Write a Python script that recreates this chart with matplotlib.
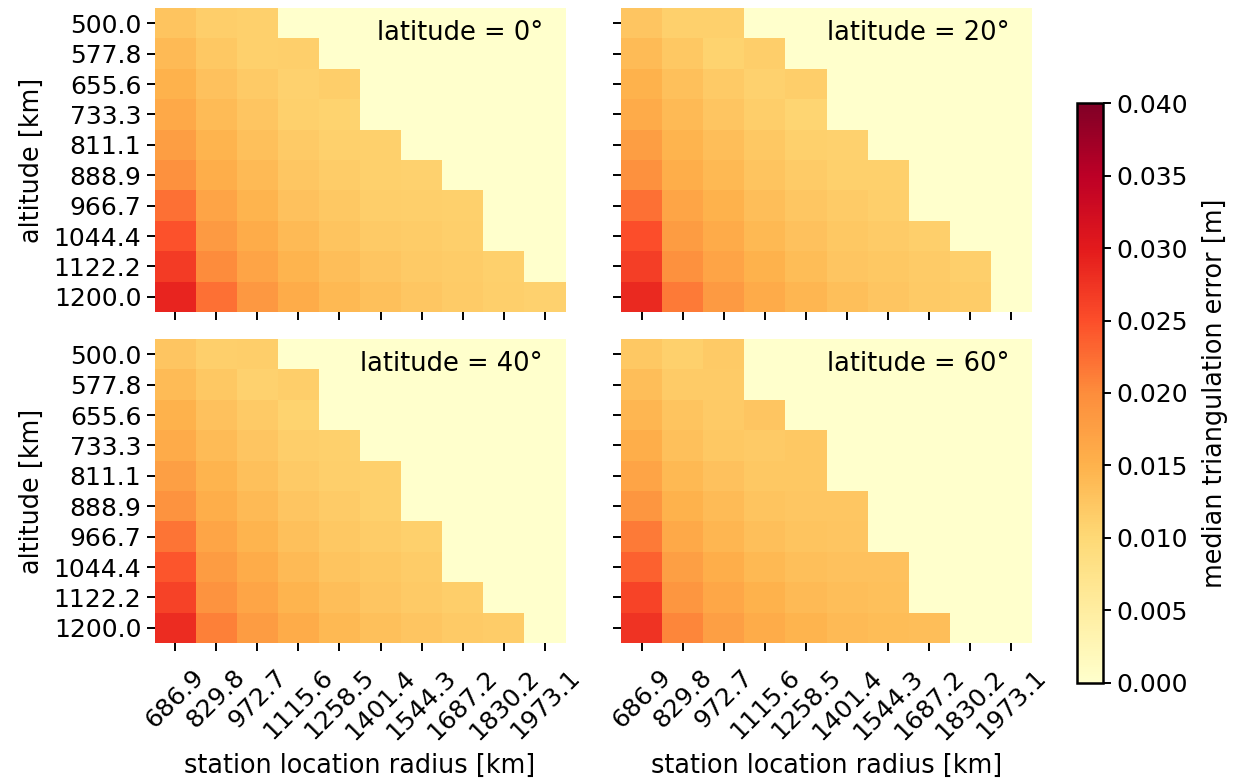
import numpy as np
import matplotlib
matplotlib.use("Agg")
import matplotlib.pyplot as plt

altitudes = ["500.0", "577.8", "655.6", "733.3", "811.1", "888.9", "966.7", "1044.4", "1122.2", "1200.0"]
radii = ["686.9", "829.8", "972.7", "1115.6", "1258.5", "1401.4", "1544.3", "1687.2", "1830.2", "1973.1"]
latitudes = [0, 20, 40, 60]

# median error [m], rows = altitude, cols = radius, 0 = no data
err_lat0 = [
    [0.0128, 0.0115, 0.0112, 0, 0, 0, 0, 0, 0, 0],
    [0.0140, 0.0122, 0.0112, 0.0113, 0, 0, 0, 0, 0, 0],
    [0.0150, 0.0130, 0.0120, 0.0110, 0.0115, 0, 0, 0, 0, 0],
    [0.0162, 0.0138, 0.0125, 0.0112, 0.0108, 0, 0, 0, 0, 0],
    [0.0178, 0.0148, 0.0132, 0.0120, 0.0112, 0.0112, 0, 0, 0, 0],
    [0.0195, 0.0155, 0.0140, 0.0124, 0.0116, 0.0112, 0.0110, 0, 0, 0],
    [0.0222, 0.0170, 0.0148, 0.0130, 0.0122, 0.0115, 0.0113, 0.0112, 0, 0],
    [0.0248, 0.0182, 0.0158, 0.0140, 0.0128, 0.0120, 0.0116, 0.0113, 0, 0],
    [0.0268, 0.0200, 0.0170, 0.0148, 0.0135, 0.0126, 0.0120, 0.0116, 0.0112, 0],
    [0.0290, 0.0222, 0.0185, 0.0158, 0.0142, 0.0132, 0.0124, 0.0118, 0.0114, 0.0110],
]
err_lat20 = [
    [0.0125, 0.0112, 0.0112, 0, 0, 0, 0, 0, 0, 0],
    [0.0138, 0.0122, 0.0108, 0.0115, 0, 0, 0, 0, 0, 0],
    [0.0150, 0.0132, 0.0120, 0.0110, 0.0115, 0, 0, 0, 0, 0],
    [0.0160, 0.0140, 0.0125, 0.0115, 0.0106, 0, 0, 0, 0, 0],
    [0.0178, 0.0148, 0.0135, 0.0122, 0.0112, 0.0110, 0, 0, 0, 0],
    [0.0195, 0.0155, 0.0142, 0.0128, 0.0118, 0.0112, 0.0112, 0, 0, 0],
    [0.0222, 0.0168, 0.0150, 0.0135, 0.0124, 0.0118, 0.0114, 0, 0, 0],
    [0.0250, 0.0180, 0.0160, 0.0142, 0.0130, 0.0122, 0.0118, 0.0113, 0, 0],
    [0.0265, 0.0195, 0.0170, 0.0150, 0.0136, 0.0126, 0.0122, 0.0118, 0.0114, 0],
    [0.0285, 0.0215, 0.0182, 0.0160, 0.0145, 0.0133, 0.0126, 0.0120, 0.0116, 0],
]
err_lat40 = [
    [0.0125, 0.0113, 0.0115, 0, 0, 0, 0, 0, 0, 0],
    [0.0138, 0.0122, 0.0110, 0.0115, 0, 0, 0, 0, 0, 0],
    [0.0150, 0.0130, 0.0120, 0.0108, 0, 0, 0, 0, 0, 0],
    [0.0160, 0.0138, 0.0125, 0.0115, 0.0112, 0, 0, 0, 0, 0],
    [0.0175, 0.0148, 0.0132, 0.0120, 0.0113, 0.0112, 0, 0, 0, 0],
    [0.0192, 0.0155, 0.0140, 0.0126, 0.0118, 0.0112, 0, 0, 0, 0],
    [0.0220, 0.0168, 0.0148, 0.0132, 0.0122, 0.0116, 0.0112, 0, 0, 0],
    [0.0245, 0.0180, 0.0158, 0.0140, 0.0128, 0.0122, 0.0116, 0, 0, 0],
    [0.0262, 0.0192, 0.0168, 0.0148, 0.0135, 0.0126, 0.0120, 0.0115, 0, 0],
    [0.0282, 0.0210, 0.0180, 0.0158, 0.0142, 0.0132, 0.0125, 0.0120, 0.0116, 0],
]
err_lat60 = [
    [0.0122, 0.0112, 0.0120, 0, 0, 0, 0, 0, 0, 0],
    [0.0135, 0.0118, 0.0118, 0, 0, 0, 0, 0, 0, 0],
    [0.0145, 0.0128, 0.0120, 0.0125, 0, 0, 0, 0, 0, 0],
    [0.0155, 0.0132, 0.0122, 0.0120, 0.0122, 0, 0, 0, 0, 0],
    [0.0170, 0.0142, 0.0130, 0.0122, 0.0122, 0, 0, 0, 0, 0],
    [0.0188, 0.0150, 0.0138, 0.0128, 0.0124, 0.0124, 0, 0, 0, 0],
    [0.0215, 0.0162, 0.0145, 0.0134, 0.0128, 0.0126, 0, 0, 0, 0],
    [0.0235, 0.0175, 0.0155, 0.0142, 0.0134, 0.0130, 0.0130, 0, 0, 0],
    [0.0260, 0.0188, 0.0165, 0.0150, 0.0140, 0.0135, 0.0132, 0, 0, 0],
    [0.0275, 0.0205, 0.0175, 0.0158, 0.0148, 0.0140, 0.0136, 0.0135, 0, 0],
]
errors = [err_lat0, err_lat20, err_lat40, err_lat60]

fs_tick = 18
fs_label = 18.4
fs_text = 18.5
fig = plt.figure(figsize=(12.37, 7.81), dpi=100)

# axes boxes in figure fractions: left, bottom
boxes = [(0.1249, 0.6005), (0.502, 0.6005), (0.1249, 0.1767), (0.502, 0.1767)]
w, h = 0.3323, 0.3892

mesh = None
for i, lat in enumerate(latitudes):
    ax = fig.add_axes([boxes[i][0], boxes[i][1], w, h])
    data = np.array(errors[i])
    mesh = ax.pcolormesh(data, cmap="YlOrRd", vmin=0, vmax=0.04)
    ax.set_xlim(0, len(radii))
    ax.set_ylim(len(altitudes), 0)
    for s in ax.spines.values():
        s.set_visible(False)
    ax.set_xticks(np.arange(len(radii)) + 0.5)
    ax.set_yticks(np.arange(len(altitudes)) + 0.5)
    ax.tick_params(labelsize=fs_tick, length=6, width=1.4)
    ax.tick_params(axis="x", pad=10)
    if i >= 2:
        ax.set_xticklabels(radii, rotation=45, ha="center")
        ax.set_xlabel("station location radius [km]", fontsize=fs_label, labelpad=6)
    else:
        ax.set_xticklabels([])
    if i % 2 == 0:
        ax.set_yticklabels(altitudes)
        ax.set_ylabel("altitude [km]", fontsize=fs_label, labelpad=6)
    else:
        ax.set_yticklabels([])
    ax.text(0.945, 0.918, f"latitude = {lat}°", transform=ax.transAxes,
            ha="right", va="center", fontsize=fs_text)

cax = fig.add_axes([0.8707, 0.1255, 0.021, 0.7426])
cb = fig.colorbar(mesh, cax=cax)
cb.set_ticks([0, 0.005, 0.01, 0.015, 0.02, 0.025, 0.03, 0.035, 0.04])
cb.ax.set_yticklabels(["0.000", "0.005", "0.010", "0.015", "0.020", "0.025", "0.030", "0.035", "0.040"])
cb.ax.tick_params(labelsize=fs_tick, length=6, width=1.4)
cb.outline.set_linewidth(1.8)
cb.set_label("median triangulation error [m]", fontsize=fs_label, labelpad=10)

fig.savefig("out.png", dpi=100)
